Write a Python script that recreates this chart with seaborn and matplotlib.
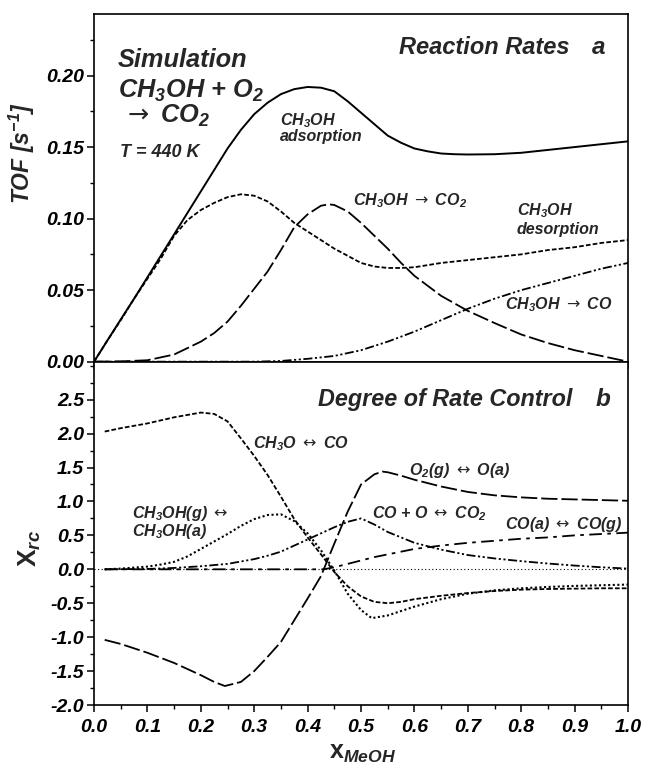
import matplotlib
matplotlib.use("Agg")
import matplotlib.pyplot as plt
from matplotlib.ticker import MultipleLocator, FormatStrFormatter
import seaborn as sns
import pandas as pd

# ---------------- data ----------------
# Panel a: reaction rates, TOF [s^-1]
x_ads = [0, 0.025, 0.05, 0.075, 0.1, 0.125, 0.15, 0.175, 0.2, 0.225, 0.25, 0.275, 0.3, 0.325,
         0.35, 0.375, 0.4, 0.425, 0.45, 0.475, 0.5, 0.525, 0.55, 0.575, 0.6, 0.625, 0.65,
         0.675, 0.7, 0.75, 0.8, 0.85, 0.9, 0.95, 1.0]
y_ads = [0, 0.0148, 0.0295, 0.044, 0.059, 0.074, 0.089, 0.104, 0.119, 0.134, 0.149, 0.162,
         0.173, 0.181, 0.187, 0.1905, 0.192, 0.1915, 0.189, 0.182, 0.174, 0.166, 0.158, 0.153,
         0.149, 0.147, 0.1455, 0.145, 0.1448, 0.145, 0.146, 0.148, 0.150, 0.152, 0.154]

x_des = [0, 0.025, 0.05, 0.075, 0.1, 0.125, 0.15, 0.175, 0.2, 0.225, 0.25, 0.275, 0.3, 0.325,
         0.35, 0.375, 0.4, 0.425, 0.45, 0.475, 0.5, 0.525, 0.55, 0.575, 0.6, 0.65, 0.7, 0.75,
         0.8, 0.85, 0.9, 0.95, 1.0]
y_des = [0, 0.0148, 0.029, 0.044, 0.058, 0.072, 0.088, 0.099, 0.106, 0.111, 0.115, 0.117,
         0.116, 0.112, 0.105, 0.097, 0.091, 0.085, 0.079, 0.074, 0.069, 0.0665, 0.0655,
         0.0655, 0.066, 0.069, 0.071, 0.073, 0.075, 0.078, 0.080, 0.083, 0.085]

x_co2 = [0, 0.05, 0.1, 0.15, 0.2, 0.225, 0.25, 0.275, 0.3, 0.325, 0.35, 0.375, 0.4, 0.425,
         0.44, 0.45, 0.475, 0.5, 0.525, 0.55, 0.575, 0.6, 0.65, 0.7, 0.75, 0.8, 0.85, 0.9,
         0.95, 1.0]
y_co2 = [0, 0.0002, 0.001, 0.005, 0.014, 0.020, 0.028, 0.039, 0.051, 0.063, 0.078, 0.094,
         0.103, 0.109, 0.110, 0.1095, 0.105, 0.097, 0.088, 0.079, 0.069, 0.060, 0.046,
         0.0355, 0.027, 0.019, 0.013, 0.008, 0.004, 0.0]

x_co = [0, 0.1, 0.2, 0.3, 0.35, 0.4, 0.45, 0.5, 0.55, 0.6, 0.65, 0.7, 0.75, 0.8, 0.85, 0.9,
        0.95, 1.0]
y_co = [0, 0, 0, 0, 0.0005, 0.002, 0.004, 0.008, 0.014, 0.021, 0.029, 0.037, 0.044, 0.050,
        0.055, 0.060, 0.065, 0.069]

# Panel b: degree of rate control X_rc
x_ch3o = [0.02, 0.05, 0.1, 0.15, 0.2, 0.225, 0.25, 0.275, 0.3, 0.325, 0.35, 0.375, 0.4,
          0.425, 0.45, 0.475, 0.5, 0.525, 0.55, 0.575, 0.6, 0.65, 0.7, 0.75, 0.8, 0.85,
          0.9, 0.95, 1.0]
y_ch3o = [2.03, 2.08, 2.15, 2.24, 2.31, 2.29, 2.18, 1.93, 1.67, 1.39, 1.07, 0.74, 0.47,
          0.22, -0.04, -0.25, -0.40, -0.48, -0.50, -0.48, -0.44, -0.39, -0.35, -0.32,
          -0.30, -0.29, -0.285, -0.28, -0.28]

x_meoh = [0.02, 0.05, 0.1, 0.125, 0.15, 0.175, 0.2, 0.225, 0.25, 0.275, 0.3, 0.325, 0.35,
          0.375, 0.4, 0.425, 0.45, 0.475, 0.5, 0.52, 0.55, 0.6, 0.65, 0.7, 0.75, 0.8, 0.85,
          0.9, 0.95, 1.0]
y_meoh = [0.0, 0.01, 0.04, 0.07, 0.11, 0.19, 0.30, 0.41, 0.52, 0.64, 0.74, 0.80, 0.81,
          0.71, 0.53, 0.28, -0.02, -0.36, -0.60, -0.72, -0.68, -0.55, -0.44, -0.36, -0.31,
          -0.28, -0.26, -0.245, -0.235, -0.225]

x_o2 = [0.02, 0.05, 0.1, 0.15, 0.2, 0.225, 0.245, 0.275, 0.3, 0.325, 0.35, 0.375, 0.4,
        0.425, 0.45, 0.475, 0.5, 0.525, 0.54, 0.55, 0.575, 0.6, 0.65, 0.7, 0.75, 0.8,
        0.85, 0.9, 0.95, 1.0]
y_o2 = [-1.04, -1.10, -1.23, -1.38, -1.56, -1.66, -1.72, -1.66, -1.50, -1.29, -1.07,
        -0.75, -0.43, -0.10, 0.38, 0.85, 1.25, 1.40, 1.44, 1.43, 1.38, 1.32, 1.22, 1.14,
        1.09, 1.06, 1.04, 1.03, 1.02, 1.01]

x_coo = [0.02, 0.1, 0.15, 0.2, 0.25, 0.3, 0.325, 0.35, 0.375, 0.4, 0.425, 0.45, 0.475,
         0.5, 0.525, 0.55, 0.575, 0.6, 0.65, 0.7, 0.75, 0.8, 0.85, 0.9, 0.95, 1.0]
y_coo = [0.0, 0.005, 0.02, 0.045, 0.08, 0.15, 0.20, 0.26, 0.35, 0.44, 0.53, 0.62, 0.70,
         0.75, 0.66, 0.55, 0.47, 0.39, 0.29, 0.21, 0.16, 0.12, 0.085, 0.055, 0.03, 0.01]

x_cog = [0.02, 0.1, 0.2, 0.3, 0.4, 0.43, 0.45, 0.475, 0.5, 0.525, 0.55, 0.6, 0.65, 0.7,
         0.75, 0.8, 0.85, 0.9, 0.95, 1.0]
y_cog = [0, 0, 0, 0, 0, 0, 0.03, 0.08, 0.13, 0.18, 0.22, 0.30, 0.35, 0.39, 0.42, 0.45,
         0.47, 0.50, 0.52, 0.54]

xticks = [0.0, 0.1, 0.2, 0.3, 0.4, 0.5, 0.6, 0.7, 0.8, 0.9, 1.0]

# ---------------- style ----------------
sns.set_style("ticks")
FAM = ["Liberation Sans", "DejaVu Sans"]
plt.rcParams.update({
    "font.family": FAM,
    "mathtext.fontset": "custom",
    "mathtext.rm": "Liberation Sans:italic:bold",
    "mathtext.it": "Liberation Sans:italic:bold",
    "mathtext.bf": "Liberation Sans:italic:bold",
    "mathtext.sf": "DejaVu Sans",
    "axes.linewidth": 1.2,
    "axes.edgecolor": "black",
    "xtick.color": "black",
    "ytick.color": "black",
    "xtick.direction": "out",
    "ytick.direction": "out",
})

fig = plt.figure(figsize=(6.48, 7.70), dpi=100)
ax1 = fig.add_axes([0.1451, 0.5303, 0.8241, 0.4515])
ax2 = fig.add_axes([0.1451, 0.0844, 0.8241, 0.4459])

LS_SOLID = "-"
LS_SHORT = (0, (2.6, 1.2))
LS_LONG = (0, (9, 2.2))
LS_DDOT = (0, (5, 1.4, 1.2, 1.4, 1.2, 1.4))
LS_DOT = (0, (1.0, 1.2))
LS_DDASH = (0, (7, 3, 2, 3))


def draw(ax, x, y, ls, lw=1.3):
    df = pd.DataFrame({"x": x, "y": y})
    sns.lineplot(data=df, x="x", y="y", ax=ax, color="black", lw=lw,
                 linestyle=ls, estimator=None, sort=True)


draw(ax1, x_ads, y_ads, LS_SOLID, 1.4)
draw(ax1, x_des, y_des, LS_SHORT, 1.3)
draw(ax1, x_co2, y_co2, LS_LONG, 1.3)
draw(ax1, x_co, y_co, LS_DDOT, 1.3)

ax2.axhline(0, color="black", lw=0.8, linestyle=(0, (1, 2.2)))
draw(ax2, x_ch3o, y_ch3o, LS_SHORT, 1.3)
draw(ax2, x_meoh, y_meoh, LS_DOT, 1.5)
draw(ax2, x_o2, y_o2, LS_LONG, 1.3)
draw(ax2, x_coo, y_coo, LS_DDOT, 1.3)
draw(ax2, x_cog, y_cog, LS_DDASH, 1.3)

TICKFONT = dict(family=FAM, weight="bold", style="italic", size=14)

for ax in (ax1, ax2):
    ax.set_xlim(0, 1.0)
    ax.set_xticks(xticks)
    ax.xaxis.set_minor_locator(MultipleLocator(0.05))
    for s in ("top", "right", "left", "bottom"):
        ax.spines[s].set_visible(True)
        ax.spines[s].set_linewidth(1.2)
    ax.tick_params(which="major", length=5, width=1.1, pad=2)
    ax.tick_params(which="minor", length=2.8, width=1.0)
    ax.tick_params(top=False, right=False, which="both")
    ax.set_xlabel("")
    ax.set_ylabel("")

ax1.set_ylim(0, 0.243)
ax1.set_yticks([0.0, 0.05, 0.10, 0.15, 0.20])
ax1.yaxis.set_minor_locator(MultipleLocator(0.025))
ax1.yaxis.set_major_formatter(FormatStrFormatter("%.2f"))
ax1.tick_params(axis="x", which="both", labelbottom=False)

ax2.set_ylim(-2.0, 3.06)
ax2.set_yticks([-2.0, -1.5, -1.0, -0.5, 0.0, 0.5, 1.0, 1.5, 2.0, 2.5])
ax2.yaxis.set_minor_locator(MultipleLocator(0.25))
ax2.yaxis.set_major_formatter(FormatStrFormatter("%.1f"))
ax2.xaxis.set_major_formatter(FormatStrFormatter("%.1f"))

for ax in (ax1, ax2):
    for lab in ax.get_xticklabels() + ax.get_yticklabels():
        lab.set_fontproperties(matplotlib.font_manager.FontProperties(**TICKFONT))
ax2.tick_params(axis="x", which="major", pad=5)

# axis labels
ax1.set_ylabel("TOF [s$^{-1}$]", fontsize=16.5, fontweight="bold", fontstyle="italic")
ax1.yaxis.set_label_coords(-0.106, 0.600)
ax2.set_ylabel("X$_{rc}$", fontsize=19, fontweight="bold", fontstyle="normal")
ax2.yaxis.set_label_coords(-0.095, 0.455)
ax2.set_xlabel("x$_{MeOH}$", fontsize=18, fontweight="bold", fontstyle="normal")
ax2.xaxis.set_label_coords(0.502, -0.158)
ax2.xaxis.label.set_va("baseline")

BIG = dict(fontsize=17.5, fontweight="bold", fontstyle="italic", va="baseline", ha="left")
SMALL = dict(fontsize=11.5, fontweight="bold", fontstyle="italic", va="baseline", ha="left")
RA = "$\\mathsf{\\rightarrow}$"
LR = "$\\mathsf{\\leftrightarrow}$"

# panel a texts
ax1.text(0.045, 0.206, "Simulation", fontsize=18.3, fontweight="bold", fontstyle="italic",
         va="baseline", ha="left")
ax1.text(0.045, 0.1846, "CH$_3$OH + O$_2$", fontsize=18.3, fontweight="bold",
         fontstyle="italic", va="baseline", ha="left")
ax1.text(0.055, 0.167, RA + " CO$_2$", fontsize=18.3, fontweight="bold",
         fontstyle="italic", va="baseline", ha="left")
ax1.text(0.049, 0.1428, "T = 440 K", fontsize=13, fontweight="bold", fontstyle="italic",
         va="baseline", ha="left")
ax1.text(0.571, 0.2153, "Reaction Rates", fontsize=17, fontweight="bold",
         fontstyle="italic", va="baseline", ha="left")
ax1.text(0.933, 0.2153, "a", **BIG)
ax1.text(0.348, 0.165, "CH$_3$OH", **SMALL)
ax1.text(0.348, 0.1545, "adsorption", **SMALL)
ax1.text(0.485, 0.109, "CH$_3$OH " + RA + " CO$_2$", **SMALL)
ax1.text(0.792, 0.102, "CH$_3$OH", **SMALL)
ax1.text(0.792, 0.0895, "desorption", **SMALL)
ax1.text(0.770, 0.0367, "CH$_3$OH " + RA + " CO", **SMALL)

# panel b texts
ax2.text(0.419, 2.40, "Degree of Rate Control", fontsize=16.8, fontweight="bold",
         fontstyle="italic", va="baseline", ha="left")
ax2.text(0.940, 2.40, "b", **BIG)
ax2.text(0.298, 1.79, "CH$_3$O " + LR + " CO", **SMALL)
ax2.text(0.589, 1.39, "O$_2$(g) " + LR + " O(a)", **SMALL)
ax2.text(0.520, 0.75, "CO + O " + LR + " CO$_2$", **SMALL)
ax2.text(0.770, 0.60, "CO(a) " + LR + " CO(g)", **SMALL)
ax2.text(0.0705, 0.76, "CH$_3$OH(g) " + LR, **SMALL)
ax2.text(0.0705, 0.495, "CH$_3$OH(a)", **SMALL)

fig.savefig("out.png", dpi=100)
